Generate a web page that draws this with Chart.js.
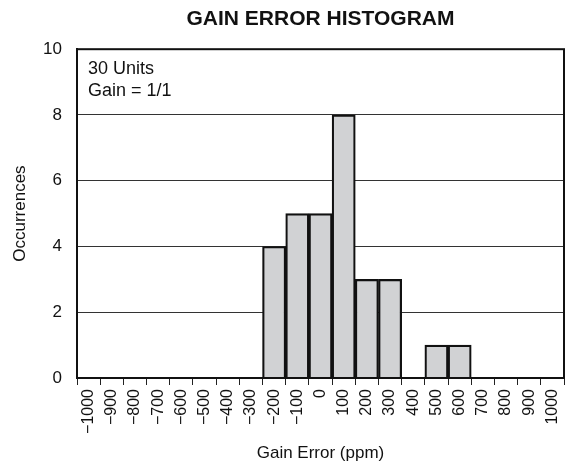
<!DOCTYPE html>
<html>
<head>
<meta charset="utf-8">
<script src="https://cdn.jsdelivr.net/npm/chart.js@4/dist/chart.umd.min.js"></script>
<style>
html,body{margin:0;padding:0;background:#fff;}
#wrap{width:566px;height:470px;}
</style>
</head>
<body>
<div id="wrap"><canvas id="c" width="566" height="470"></canvas></div>
<script>
const binLabels = ["\u22121000","\u2212900","\u2212800","\u2212700","\u2212600","\u2212500","\u2212400","\u2212300","\u2212200","\u2212100","0","100","200","300","400","500","600","700","800","900","1000"];
const occurrences = [0,0,0,0,0,0,0,0,4,5,5,8,3,3,0,1,1,0,0,0,0];
const yTicks = [0,2,4,6,8,10];
const chartTitle = "GAIN ERROR HISTOGRAM";
const xTitle = "Gain Error (ppm)";
const yTitle = "Occurrences";
const noteLines = ["30 Units","Gain = 1/1"];

const FONT = "'Liberation Sans', Arial, Helvetica, sans-serif";

const frame = {
  id: 'frame',
  afterDatasetsDraw(chart){
    const {ctx, chartArea:a} = chart;
    ctx.save();
    ctx.strokeStyle = '#111';
    ctx.lineWidth = 2;
    ctx.strokeRect(a.left, a.top, a.right - a.left, a.bottom - a.top);
    ctx.fillStyle = '#111';
    ctx.font = "18px " + FONT;
    ctx.textBaseline = 'alphabetic';
    ctx.textAlign = 'left';
    noteLines.forEach((t,i)=>ctx.fillText(t, a.left + 11, a.top + 25 + i*22));
    ctx.restore();
  }
};

new Chart(document.getElementById('c'), {
  type: 'bar',
  data: {
    labels: binLabels,
    datasets: [{
      data: occurrences,
      backgroundColor: '#d1d2d4',
      borderColor: '#111',
      borderWidth: 2.2,
      categoryPercentage: 1,
      barPercentage: 1
    }]
  },
  options: {
    responsive: false,
    animation: false,
    devicePixelRatio: 1,
    layout: {padding: {left: 0, right: 2, top: 0, bottom: 1}},
    plugins: {
      legend: {display: false},
      tooltip: {enabled: false},
      title: {
        display: true,
        fullSize: false,
        text: chartTitle,
        color: '#111',
        font: {family: FONT, size: 21, weight: 'bold'},
        padding: {top: 7, bottom: 17}
      }
    },
    scales: {
      x: {
        offset: true,
        afterFit(scale){ scale.height = 91; scale.paddingLeft = 0; scale.paddingRight = 0; },
        grid: {offset: true, drawOnChartArea: false, drawTicks: true, tickLength: 7, color: '#222', lineWidth: 1},
        border: {display: true, color: '#111', width: 2},
        ticks: {color: '#111', font: {family: FONT, size: 16}, minRotation: 90, maxRotation: 90, autoSkip: false, padding: 4},
        title: {display: true, text: xTitle, color: '#111', font: {family: FONT, size: 17}, padding: {top: 5, bottom: 5}}
      },
      y: {
        min: 0, max: 10,
        afterBuildTicks(scale){ scale.ticks = yTicks.map(v=>({value:v})); },
        afterFit(scale){ scale.width = 77; },
        grid: {drawTicks: false, color: '#333', lineWidth: 1},
        border: {display: true, color: '#111', width: 2},
        ticks: {color: '#111', font: {family: FONT, size: 17}, padding: 15},
        title: {display: true, text: yTitle, color: '#111', font: {family: FONT, size: 17}, padding: {top: 10, bottom: 4}}
      }
    }
  },
  plugins: [frame]
});
</script>
</body>
</html>
